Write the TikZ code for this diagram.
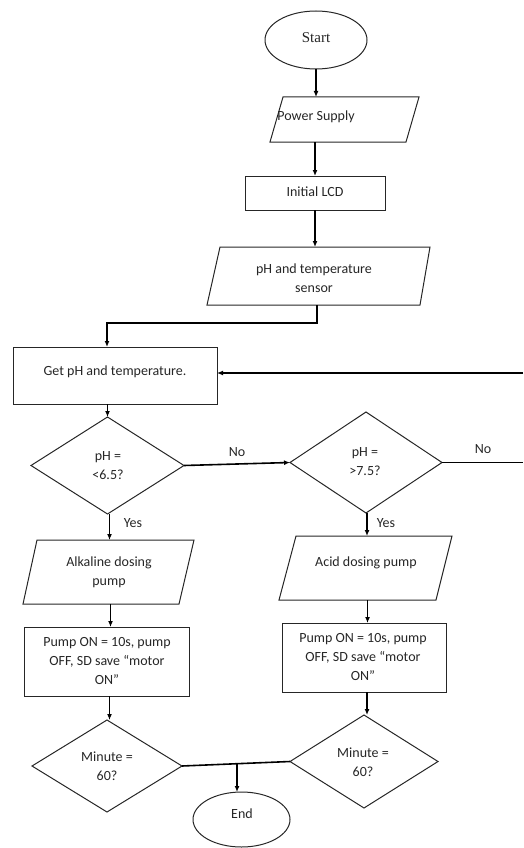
\documentclass[tikz,border=0pt]{standalone}
\usepackage{fontspec}
\setmainfont{Carlito}
\newfontfamily\startfont{Liberation Serif}
\usetikzlibrary{shapes.geometric,arrows.meta}
\begin{document}
\begin{tikzpicture}[x=1pt,y=-1pt,
  shp/.style={draw=black!85, line width=1pt, inner sep=0pt, outer sep=0pt},
  box/.style={shp, rectangle},
  pbox/.style={rectangle, inner sep=0pt, outer sep=0pt},
  pline/.style={draw=black!85, line width=1pt, line join=miter},
  dia/.style={shp, diamond},
  term/.style={shp, ellipse},
  txt/.style={align=center, inner sep=0pt, text=black!85, font=\fontsize{14}{19}\selectfont},
  arr/.style={line width=1.6pt, -{Latex[length=6pt,width=5pt]}},
  ln/.style={line width=1.6pt}]
\useasboundingbox (0,0) rectangle (523,848);
% shapes
\node[term, minimum width=102pt, minimum height=58pt] (start) at (316,40) {};
\node[pbox, minimum width=149pt, minimum height=45pt] (power) at (344.5,119.5) {};
\draw[pline] ([xshift=13pt]power.north west) -- (power.north east) -- ([xshift=-13pt]power.south east) -- (power.south west) -- cycle;
\node[box, minimum width=140pt, minimum height=34pt] (lcd) at (315,193) {};
\node[pbox, minimum width=223pt, minimum height=58pt] (sensor) at (318.5,276) {};
\draw[pline] ([xshift=13pt]sensor.north west) -- (sensor.north east) -- ([xshift=-10pt]sensor.south east) -- (sensor.south west) -- cycle;
\node[box, minimum width=204pt, minimum height=57pt] (get) at (115,375.5) {};
\node[dia, minimum width=153pt, minimum height=97pt] (d1) at (107.5,465.5) {};
\node[dia, minimum width=152pt, minimum height=101pt] (d2) at (366,462.5) {};
\node[pbox, minimum width=171pt, minimum height=64pt] (alk) at (108.5,572) {};
\draw[pline] ([xshift=14pt]alk.north west) -- (alk.north east) -- ([xshift=-15pt]alk.south east) -- (alk.south west) -- cycle;
\node[pbox, minimum width=173pt, minimum height=64pt] (acid) at (365.5,568) {};
\draw[pline] ([xshift=17pt]acid.north west) -- (acid.north east) -- ([xshift=-16pt]acid.south east) -- (acid.south west) -- cycle;
\node[box, minimum width=165pt, minimum height=69pt] (p1) at (106.5,661.5) {};
\node[box, minimum width=164pt, minimum height=69pt] (p2) at (364,657.5) {};
\node[dia, minimum width=150pt, minimum height=92pt] (m1) at (107,766) {};
\node[dia, minimum width=148pt, minimum height=93pt] (m2) at (364,761.5) {};
\node[term, minimum width=97pt, minimum height=55pt] (fin) at (241.5,819.5) {};
% texts
\node[txt, font=\startfont\fontsize{15}{17}\selectfont] (tstart) at (316,38) {Start};
\node[txt] (tpower) at (316,117) {Power Supply};
\node[txt] (tlcd) at (315,192) {Initial LCD};
\node[txt] (tsensor) at (314,278) {pH and temperature\\sensor};
\node[txt] (tget) at (115,372) {Get pH and temperature.};
\node[txt] (td1) at (108,466) {pH =\\<6.5?};
\node[txt] (td2) at (365,462) {pH =\\>7.5?};
\node[txt] (no1) at (237,452) {No};
\node[txt] (no2) at (483,449) {No};
\node[txt] (yes1) at (133,523) {Yes};
\node[txt] (yes2) at (386,523) {Yes};
\node[txt] (talk) at (109,572) {Alkaline dosing\\pump};
\node[txt] (tacid) at (366,563) {Acid dosing pump};
\node[txt] (tp1) at (107,661) {Pump ON = 10s, pump\\OFF, SD save “motor\\ON”};
\node[txt] (tp2) at (363,657) {Pump ON = 10s, pump\\OFF, SD save “motor\\ON”};
\node[txt] (tm1) at (107,766) {Minute =\\60?};
\node[txt] (tm2) at (363,762) {Minute =\\60?};
\node[txt] (tfin) at (242,814) {End};
% coordinates
\coordinate (turn) at (317,323);
\coordinate (fb) at (523,373);
\coordinate (noend) at (523,462.5);
\coordinate (mid) at (237,763);
% connectors
\draw[arr] (start.south) -- (start.south |- power.north);
\draw[arr] (lcd.north |- power.south) -- (lcd.north);
\draw[arr] (lcd.south) -- (lcd.south |- sensor.north);
\draw[arr] (turn |- sensor.south) -- (turn) -| ([xshift=-8pt]get.north);
\draw[arr] (fb) -- (fb -| get.east);
\draw[arr] (d1.north |- get.south) -- (d1.north);
\draw[arr] (d1.east) -- (d2.west);
\draw[ln] (d2.east) -- (noend);
\draw[arr] ([xshift=2pt]d1.south) -- ([xshift=2pt]d1.south |- alk.north);
\draw[arr] ([xshift=1pt]d2.south) -- ([xshift=1pt]d2.south |- acid.north);
\draw[arr] ([xshift=2pt]alk.south) -- ([xshift=2pt]alk.south |- p1.north);
\draw[arr] ([xshift=2pt]acid.south) -- ([xshift=2pt]acid.south |- p2.north);
\draw[arr] ([xshift=3pt]p1.south) -- ([xshift=3pt]p1.south |- m1.north);
\draw[arr] ([xshift=3pt]p2.south) -- ([xshift=3pt]p2.south |- m2.north);
\draw[ln] (m1.east) -- (m2.west);
\draw[arr] (mid) -- (mid |- fin.north);
\end{tikzpicture}
\end{document}
